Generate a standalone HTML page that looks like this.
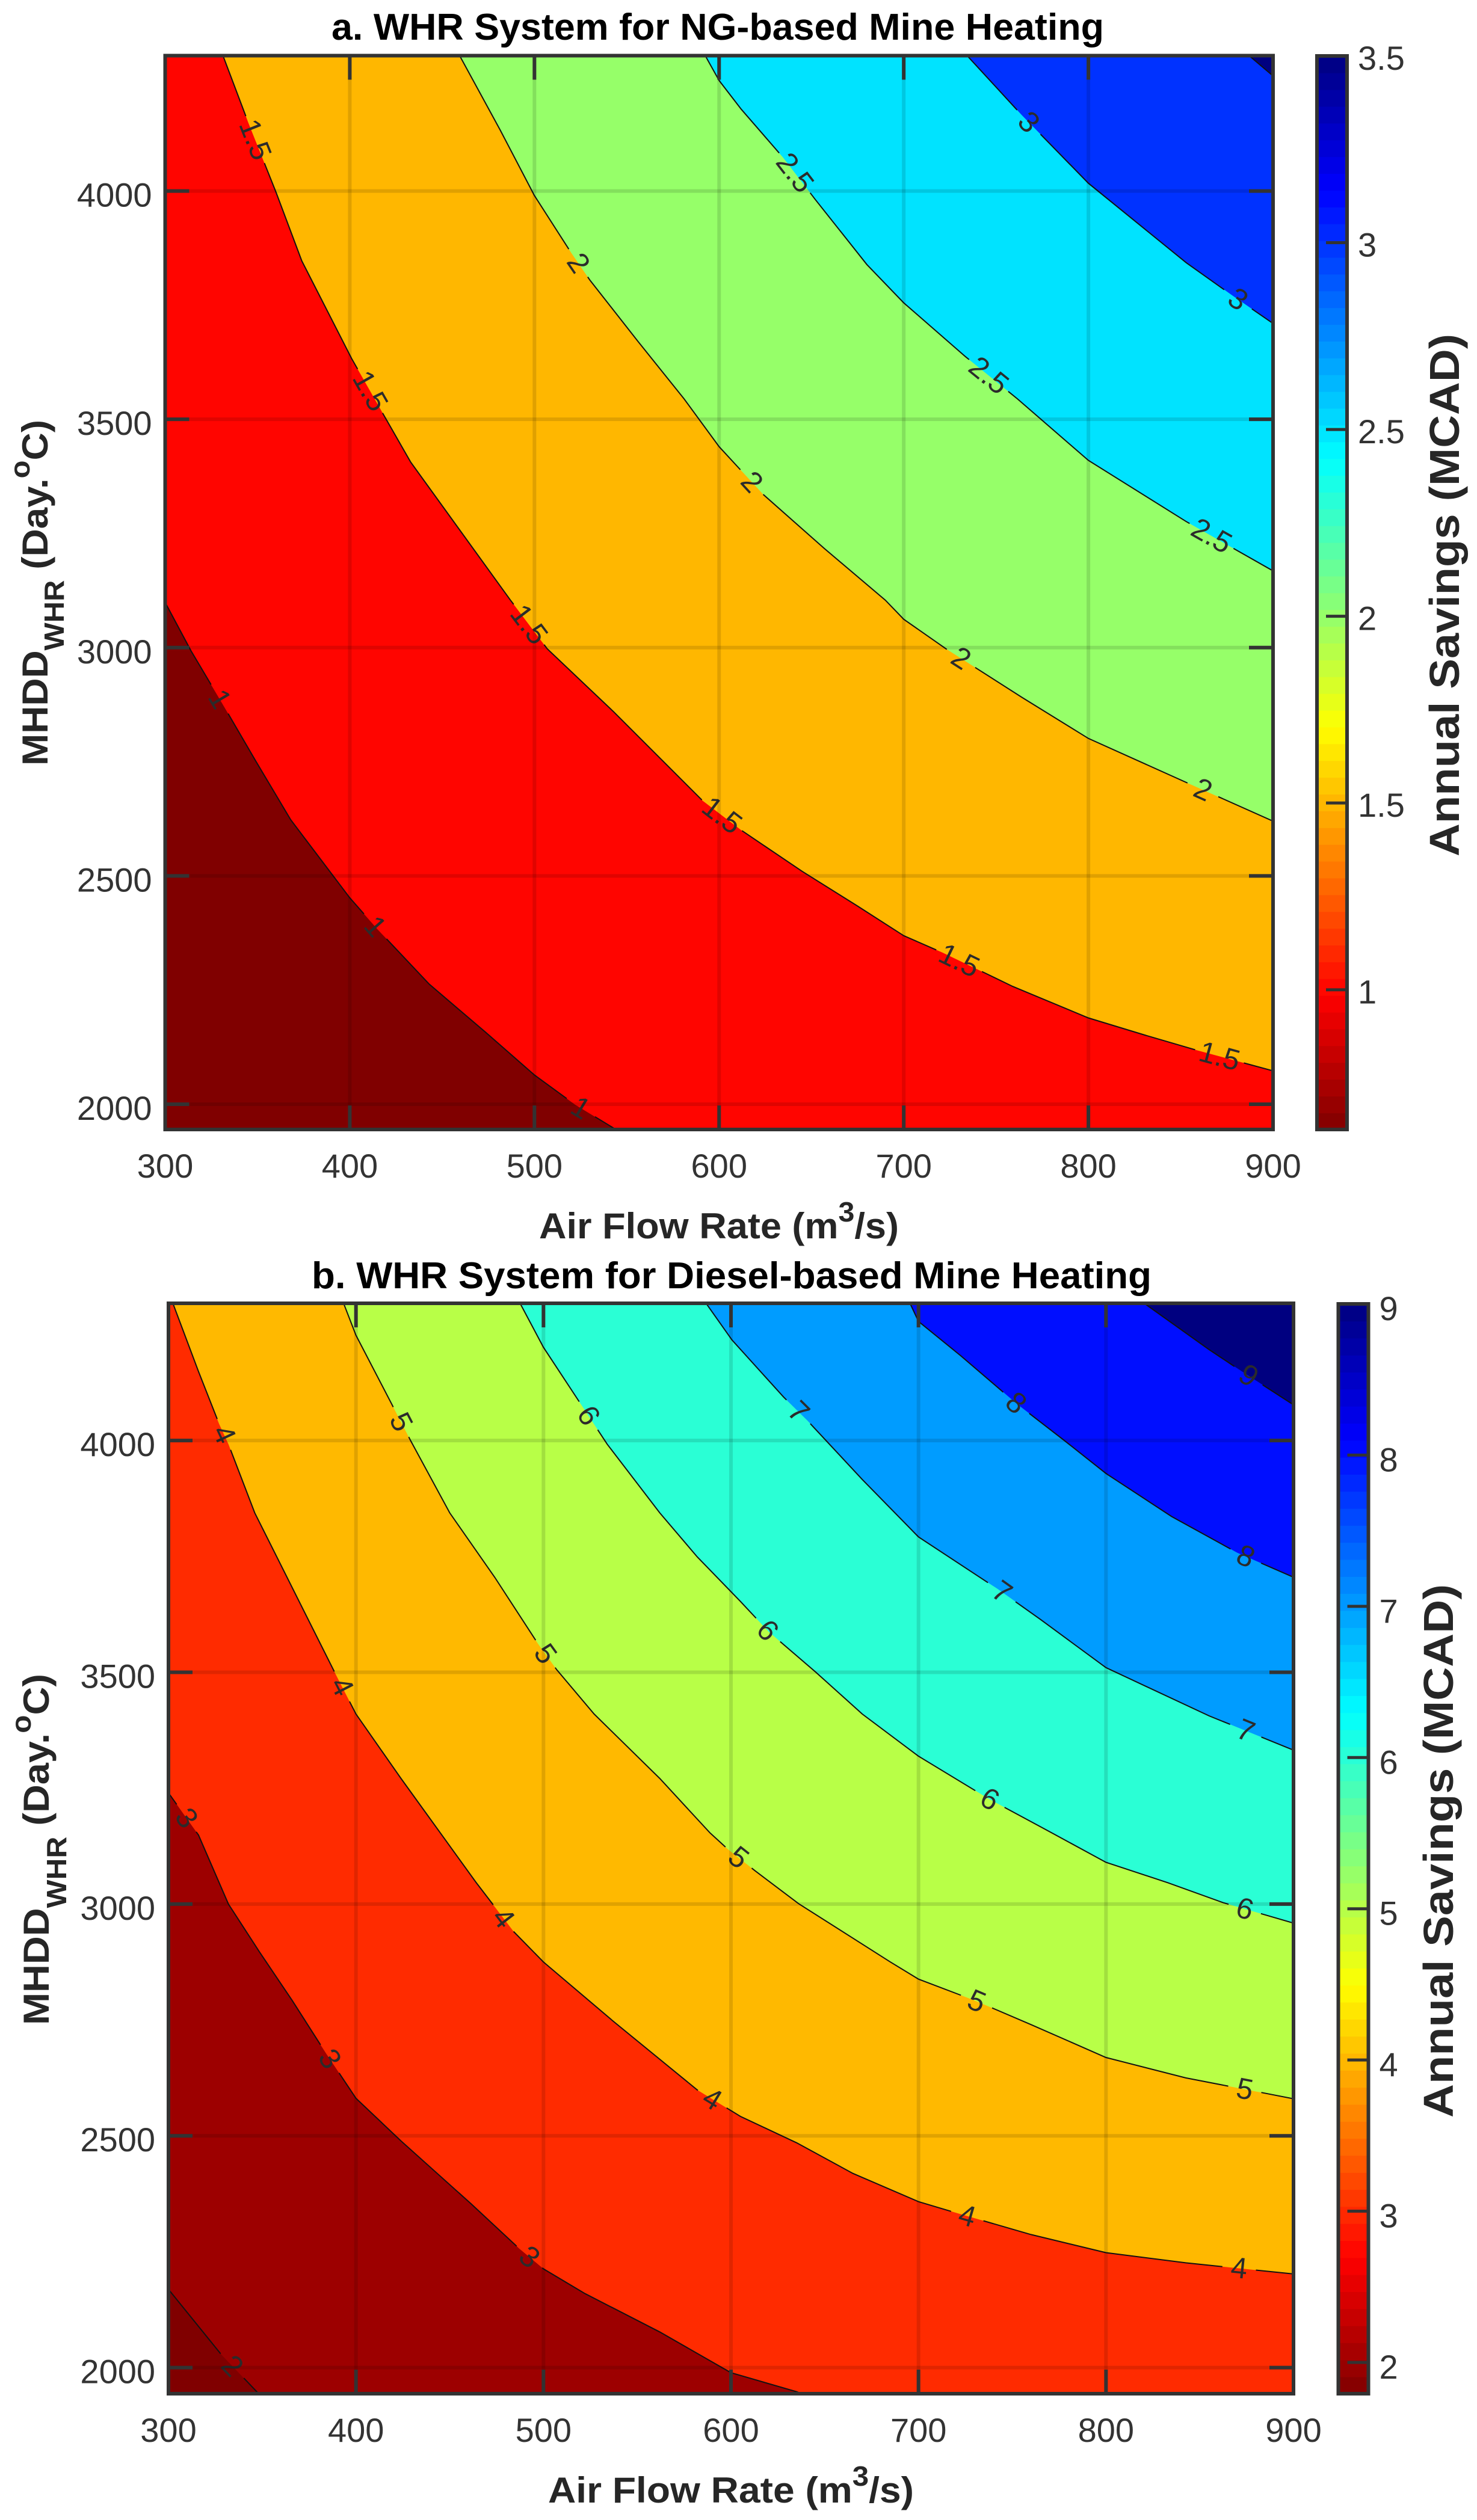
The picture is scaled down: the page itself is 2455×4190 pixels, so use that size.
<!DOCTYPE html>
<html lang="en">
<head>
<meta charset="utf-8">
<title>WHR System Annual Savings Contours</title>
<style>
html,body{margin:0;padding:0;background:#fff;}
svg{display:block;font-family:"Liberation Sans",Arial,sans-serif;}
</style>
</head>
<body>
<svg id="figure" xmlns="http://www.w3.org/2000/svg" width="2455" height="4190" viewBox="0 0 2455 4190">
  <rect x="0" y="0" width="2455" height="4190" fill="#ffffff"/>

  <text x="551" y="66" font-size="62" font-weight="bold" fill="#000" textLength="1284" lengthAdjust="spacingAndGlyphs">a. WHR System for NG-based Mine Heating</text>
  <text x="896" y="2059" font-size="60" font-weight="bold" fill="#262626" textLength="598" lengthAdjust="spacingAndGlyphs">Air Flow Rate (m<tspan font-size="46" dy="-28">3</tspan><tspan dy="28">/s)</tspan></text>
  <text transform="translate(79 1273) rotate(-90)" font-size="60" font-weight="bold" fill="#262626" textLength="575" lengthAdjust="spacingAndGlyphs">MHDD<tspan font-size="46" dy="27">WHR</tspan><tspan dy="-27"> (Day.</tspan><tspan font-size="46" dy="-30">o</tspan><tspan dy="30">C)</tspan></text>
  <text transform="translate(2425 1424) rotate(-90)" font-size="70" font-weight="bold" fill="#262626" textLength="869" lengthAdjust="spacingAndGlyphs">Annual Savings (MCAD)</text>

  <text x="518" y="2142" font-size="62" font-weight="bold" fill="#000" textLength="1396" lengthAdjust="spacingAndGlyphs">b. WHR System for Diesel-based Mine Heating</text>
  <text x="911" y="4161" font-size="60" font-weight="bold" fill="#262626" textLength="608" lengthAdjust="spacingAndGlyphs">Air Flow Rate (m<tspan font-size="46" dy="-28">3</tspan><tspan dy="28">/s)</tspan></text>
  <text transform="translate(81 3367) rotate(-90)" font-size="60" font-weight="bold" fill="#262626" textLength="584" lengthAdjust="spacingAndGlyphs">MHDD<tspan font-size="46" dy="29">WHR</tspan><tspan dy="-29"> (Day.</tspan><tspan font-size="46" dy="-30">o</tspan><tspan dy="30">C)</tspan></text>
  <text transform="translate(2415 3521) rotate(-90)" font-size="70" font-weight="bold" fill="#262626" textLength="887" lengthAdjust="spacingAndGlyphs">Annual Savings (MCAD)</text>

  <g id="panel-a"></g>
  <g id="panel-b"></g>
</svg>

<script>
// ---------- Shared tick labels ----------
const xTickValues = [300, 400, 500, 600, 700, 800, 900];
const yTickValues = [2000, 2500, 3000, 3500, 4000];

// ---------- Panel a: NG-based mine heating ----------
const ngColorTicks = ['1', '1.5', '2', '2.5', '3', '3.5'];
const ngColorRange = [0.626, 3.5];
const ngYRange = [1944.6, 4296.5];
const ngLevels = [1, 1.5, 2, 2.5, 3, 3.5];

const ngLine1X = [300, 314, 331, 349, 368, 400, 415, 443, 474, 500, 522, 546];
const ngLine1Y = [3099, 2993, 2877, 2752, 2623, 2452, 2383, 2263, 2156, 2064, 1999, 1940];

const ngLine15X = [331, 345, 360, 374, 401, 420, 433, 487, 507, 543, 591, 612, 645, 675, 700, 721, 759, 800, 830, 858, 900];
const ngLine15Y = [4300, 4150, 3998, 3847, 3633, 3498, 3406, 3104, 2997, 2859, 2665, 2600, 2510, 2434, 2369, 2332, 2258, 2189, 2152, 2119, 2073];

const ngLine2X = [459, 481.5, 500, 520, 530, 556, 581, 600, 624, 657, 690, 700, 723, 764, 800, 855, 900];
const ngLine2Y = [4300, 4133, 3990, 3864, 3805, 3671, 3545, 3440, 3335, 3217, 3104, 3062, 2997, 2891, 2801, 2701, 2620];

const ngLine25X = [592, 600, 612, 634.5, 652, 680, 700, 733.5, 761.5, 800, 853, 900];
const ngLine25Y = [4300, 4242, 4179, 4074, 3982, 3839, 3755, 3637, 3545, 3410, 3276, 3168];

const ngLine3X = [733.5, 764, 800, 853, 878, 900];
const ngLine3Y = [4300, 4166, 4017, 3843, 3771, 3710];

const ngLine35X = [886, 900];
const ngLine35Y = [4300, 4252];

const ngLabelLevels = [1, 1, 1, 1.5, 1.5, 1.5, 1.5, 1.5, 1.5, 2, 2, 2, 2, 2.5, 2.5, 2.5, 3, 3];
const ngLabelX = [329.5, 413.7, 525, 348.7, 411, 497, 601.5, 730, 871, 523.7, 617.7, 731, 862, 641, 746, 866.7, 767.7, 881];

// ---------- Panel b: diesel-based mine heating ----------
const dieselColorTicks = ['2', '3', '4', '5', '6', '7', '8', '9'];
const dieselColorRange = [1.793, 9];
const dieselYRange = [1943.7, 4296];
const dieselLevels = [2, 3, 4, 5, 6, 7, 8, 9];

const dieselLine2X = [300, 328, 349];
const dieselLine2Y = [2169, 2029, 1940];

const dieselLine3X = [300, 316, 332, 348.5, 366, 384, 400, 424, 461.5, 487, 500, 522, 562, 600, 635, 640];
const dieselLine3Y = [3240, 3149, 3000, 2897, 2792, 2678, 2581, 2489, 2353, 2257, 2213, 2160, 2077, 1989, 1948, 1940];

const dieselLine4X = [302, 316, 327, 332, 346, 361, 389, 400, 424, 464, 484, 500, 537, 582, 605, 635, 665, 700, 722.5, 760, 800, 842.5, 900];
const dieselLine4Y = [4300, 4149, 4036, 3992, 3844, 3723, 3497, 3410, 3271, 3047, 2941, 2875, 2748, 2599, 2542, 2485, 2419, 2358, 2331, 2287, 2248, 2226, 2202];

const dieselLine5X = [393, 400, 419, 429, 450, 474, 497, 507, 527, 562, 588.7, 598.4, 612.8, 636, 685, 700, 730, 760, 800, 842.5, 900];
const dieselLine5Y = [4300, 4227, 4079, 4001, 3844, 3705, 3562, 3506, 3410, 3271, 3154, 3118, 3072, 3001, 2875, 2838, 2792, 2740, 2669, 2625, 2580];

const dieselLine6X = [487, 500, 534, 562, 582, 605, 620, 645, 670, 700, 737.5, 765, 800, 833, 862.5, 900];
const dieselLine6Y = [4300, 4201, 3992, 3844, 3749, 3653, 3588, 3501, 3410, 3319, 3227, 3167, 3090, 3046, 3003, 2959];

const dieselLine7X = [586, 600.5, 628, 641, 670, 700, 742.5, 765, 800, 855, 900];
const dieselLine7Y = [4300, 4217, 4094, 4042, 3916, 3792, 3679, 3614, 3510, 3406, 3332];

const dieselLine8X = [695, 700, 722.5, 752.5, 777.5, 800, 835, 870, 900];
const dieselLine8Y = [4300, 4257, 4183, 4079, 4001, 3929, 3836, 3758, 3705];

const dieselLine9X = [819, 855, 872.5, 900];
const dieselLine9Y = [4300, 4196, 4149, 4077];

const dieselLabelLevels = [2, 3, 3, 3, 4, 4, 4, 4, 4, 4, 5, 5, 5, 5, 5, 6, 6, 6, 6, 7, 7, 7, 8, 8, 9];
const dieselLabelX = [334, 309.6, 386, 492.5, 329.6, 392.5, 478.6, 590, 726, 871, 424, 501, 604, 731, 874, 524, 619.5, 738, 874, 636, 744.5, 874.5, 752, 874.5, 876];

const ngLineXs = [ngLine1X, ngLine15X, ngLine2X, ngLine25X, ngLine3X, ngLine35X];
const ngLineYs = [ngLine1Y, ngLine15Y, ngLine2Y, ngLine25Y, ngLine3Y, ngLine35Y];
const dieselLineXs = [dieselLine2X, dieselLine3X, dieselLine4X, dieselLine5X, dieselLine6X, dieselLine7X, dieselLine8X, dieselLine9X];
const dieselLineYs = [dieselLine2Y, dieselLine3Y, dieselLine4Y, dieselLine5Y, dieselLine6Y, dieselLine7Y, dieselLine8Y, dieselLine9Y];

// ---------- Rendering ----------
const SVG_NS = 'http://www.w3.org/2000/svg';

function make(tag, attrs, parent) {
  const el = document.createElementNS(SVG_NS, tag);
  for (const k in attrs) el.setAttribute(k, attrs[k]);
  parent.appendChild(el);
  return el;
}

function clamp01(v) { return Math.max(0, Math.min(1, v)); }

// Reversed jet: high value = blue end, low value = red end.
function jetReversed(value, range) {
  const t = clamp01((range[1] - value) / (range[1] - range[0]));
  const r = clamp01(Math.min(4 * t - 1.5, -4 * t + 4.5));
  const g = clamp01(Math.min(4 * t - 0.5, -4 * t + 3.5));
  const b = clamp01(Math.min(4 * t + 0.5, -4 * t + 2.5));
  return 'rgb(' + Math.round(r * 255) + ',' + Math.round(g * 255) + ',' + Math.round(b * 255) + ')';
}

function drawPanel(root, id, box, yRange, colorBox, colorRange, levels, lineXs, lineYs, labelLevels, labelX, colorTicks, tickFont) {
  const xRange = [300, 900];
  const sx = v => box.left + (v - xRange[0]) / (xRange[1] - xRange[0]) * (box.right - box.left);
  const sy = v => box.bottom - (v - yRange[0]) / (yRange[1] - yRange[0]) * (box.bottom - box.top);
  const sc = v => colorBox.bottom - (v - colorRange[0]) / (colorRange[1] - colorRange[0]) * (colorBox.bottom - colorBox.top);

  const defs = make('defs', {}, root);
  const clip = make('clipPath', { id: id + '-clip' }, defs);
  make('rect', { x: box.left, y: box.top, width: box.right - box.left, height: box.bottom - box.top }, clip);

  const plot = make('g', { 'clip-path': 'url(#' + id + '-clip)' }, root);
  
  

  const base = make('rect', { x: box.left, y: box.top, width: box.right - box.left, height: box.bottom - box.top, fill: jetReversed(colorRange[0], colorRange) }, plot);
  
  

  // Filled bands, ascending
  levels.forEach((level, i) => {
    const xs = lineXs[i], ys = lineYs[i];
    const pts = xs.map((x, j) => sx(x).toFixed(1) + ',' + sy(ys[j]).toFixed(1));
    const lastX = xs[xs.length - 1], firstX = xs[0];
    const extra = [];
    if (lastX < xRange[1]) extra.push(sx(xRange[1]) + ',' + (box.bottom + 20));
    extra.push((box.right + 20) + ',' + (box.top - 20));
    if (firstX <= xRange[0]) extra.push((box.left - 20) + ',' + (box.top - 20));
    const band = make('polygon', { points: pts.concat(extra).join(' '), fill: jetReversed(level, colorRange) }, plot);
    
    
  });

  // Contour lines with label gaps, and labels
  levels.forEach((level, i) => {
    const xs = lineXs[i], ys = lineYs[i];
    const px = xs.map(sx), py = ys.map(sy);
    const arc = [0];
    for (let j = 1; j < px.length; j++) arc.push(arc[j - 1] + Math.hypot(px[j] - px[j - 1], py[j] - py[j - 1]));

    const text = String(level);
    const half = text.length > 1 ? 42 : 28;
    const gaps = [];
    const marks = [];
    labelLevels.forEach((lv, k) => {
      if (lv !== level) return;
      const lx = labelX[k];
      for (let j = 1; j < xs.length; j++) {
        if (lx >= xs[j - 1] && lx <= xs[j]) {
          const f = (lx - xs[j - 1]) / (xs[j] - xs[j - 1]);
          const cx = px[j - 1] + f * (px[j] - px[j - 1]);
          const cy = py[j - 1] + f * (py[j] - py[j - 1]);
          const s = arc[j - 1] + f * (arc[j] - arc[j - 1]);
          gaps.push([s - half, s + half]);
          const ang = Math.atan2(py[j] - py[j - 1], px[j] - px[j - 1]) * 180 / Math.PI;
          marks.push([cx, cy, ang]);
          break;
        }
      }
    });
    gaps.sort((a, b) => a[0] - b[0]);

    function pointAt(s) {
      for (let j = 1; j < arc.length; j++) {
        if (s <= arc[j]) {
          const f = (s - arc[j - 1]) / (arc[j] - arc[j - 1] || 1);
          return [px[j - 1] + f * (px[j] - px[j - 1]), py[j - 1] + f * (py[j] - py[j - 1])];
        }
      }
      return [px[px.length - 1], py[py.length - 1]];
    }
    function subPath(s0, s1) {
      if (s1 <= s0) return '';
      const p0 = pointAt(s0);
      let d = 'M' + p0[0].toFixed(1) + ' ' + p0[1].toFixed(1);
      for (let j = 0; j < arc.length; j++) {
        if (arc[j] > s0 && arc[j] < s1) d += 'L' + px[j].toFixed(1) + ' ' + py[j].toFixed(1);
      }
      const p1 = pointAt(s1);
      return d + 'L' + p1[0].toFixed(1) + ' ' + p1[1].toFixed(1);
    }
    let d = '', cur = 0;
    gaps.forEach(g => { d += subPath(cur, g[0]); cur = g[1]; });
    d += subPath(cur, arc[arc.length - 1]);

    const line = make('path', { d: d, fill: 'none', stroke: '#111', 'stroke-width': 2 }, plot);
    
    

    marks.forEach(m => {
      const label = make('text', {
        x: 0, y: 0,
        transform: 'translate(' + m[0].toFixed(1) + ' ' + m[1].toFixed(1) + ') rotate(' + m[2].toFixed(1) + ')',
        'font-size': 49, fill: '#2b2b2b', 'text-anchor': 'middle', 'dominant-baseline': 'central'
      }, plot);
      label.textContent = text;
      
      
    });
  });

  // Grid
  const gridGroup = make('g', { stroke: 'rgba(0,0,0,0.12)', 'stroke-width': 6 }, plot);
  
  
  xTickValues.forEach(v => {
    const g = make('line', { x1: sx(v), x2: sx(v), y1: box.top, y2: box.bottom }, gridGroup);
    
    
  });
  yTickValues.forEach(v => {
    const g = make('line', { x1: box.left, x2: box.right, y1: sy(v), y2: sy(v) }, gridGroup);
    
    
  });

  // Axes frame and ticks
  const axis = make('g', { stroke: '#333', 'stroke-width': 6 }, root);
  
  
  const tickLen = 40;
  xTickValues.forEach(v => {
    const t1 = make('line', { x1: sx(v), x2: sx(v), y1: box.bottom, y2: box.bottom - tickLen }, axis);
    
    
    const t2 = make('line', { x1: sx(v), x2: sx(v), y1: box.top, y2: box.top + tickLen }, axis);
    
    
    const lab = make('text', { x: sx(v), y: box.bottom + 80, 'font-size': tickFont, fill: '#333', stroke: 'none', 'text-anchor': 'middle' }, root);
    lab.textContent = String(v);
    
    
  });
  yTickValues.forEach(v => {
    const t1 = make('line', { x1: box.left, x2: box.left + tickLen, y1: sy(v), y2: sy(v) }, axis);
    
    
    const t2 = make('line', { x1: box.right, x2: box.right - tickLen, y1: sy(v), y2: sy(v) }, axis);
    
    
    const lab = make('text', { x: box.left - 22, y: sy(v) + 26, 'font-size': tickFont, fill: '#333', stroke: 'none', 'text-anchor': 'end' }, root);
    lab.textContent = String(v);
    
    
  });
  const frame = make('rect', { x: box.left, y: box.top, width: box.right - box.left, height: box.bottom - box.top, fill: 'none', stroke: '#333', 'stroke-width': 6 }, root);
  
  

  // Colorbar
  const bar = make('g', {}, root);
  
  
  const steps = 64;
  for (let n = 0; n < steps; n++) {
    const v0 = colorRange[0] + (colorRange[1] - colorRange[0]) * n / steps;
    const v1 = colorRange[0] + (colorRange[1] - colorRange[0]) * (n + 1) / steps;
    const mid = (v0 + v1) / 2;
    const seg = make('rect', { x: colorBox.left, y: sc(v1), width: colorBox.right - colorBox.left, height: sc(v0) - sc(v1) + 0.8, fill: jetReversed(mid, colorRange) }, bar);
    
    
  }
  colorTicks.forEach(text => {
    const v = parseFloat(text);
    if (v < colorRange[1] - 0.001) {
      const t = make('line', { x1: colorBox.right, x2: colorBox.right - 35, y1: sc(v), y2: sc(v), stroke: '#333', 'stroke-width': 5 }, bar);
      
      
    }
    const lab = make('text', { x: colorBox.right + 18, y: sc(v) + colorBox.labelShift, 'font-size': tickFont, fill: '#333' }, root);
    lab.textContent = text;
    
    
  });
  const barFrame = make('rect', { x: colorBox.left, y: colorBox.top, width: colorBox.right - colorBox.left, height: colorBox.bottom - colorBox.top, fill: 'none', stroke: '#333', 'stroke-width': 6 }, bar);
  
  
}

drawPanel(
  document.getElementById('panel-a'), 'panel-a',
  { left: 274.5, right: 2116, top: 92.5, bottom: 1878 },
  ngYRange,
  { left: 2189, right: 2239, top: 93, bottom: 1878, labelShift: 23 },
  ngColorRange, ngLevels, ngLineXs, ngLineYs, ngLabelLevels, ngLabelX, ngColorTicks, 56
);
drawPanel(
  document.getElementById('panel-b'), 'panel-b',
  { left: 280, right: 2150, top: 2167, bottom: 3980 },
  dieselYRange,
  { left: 2224.5, right: 2274.5, top: 2168, bottom: 3980, labelShift: 27 },
  dieselColorRange, dieselLevels, dieselLineXs, dieselLineYs, dieselLabelLevels, dieselLabelX, dieselColorTicks, 56
);
</script>
</body>
</html>
